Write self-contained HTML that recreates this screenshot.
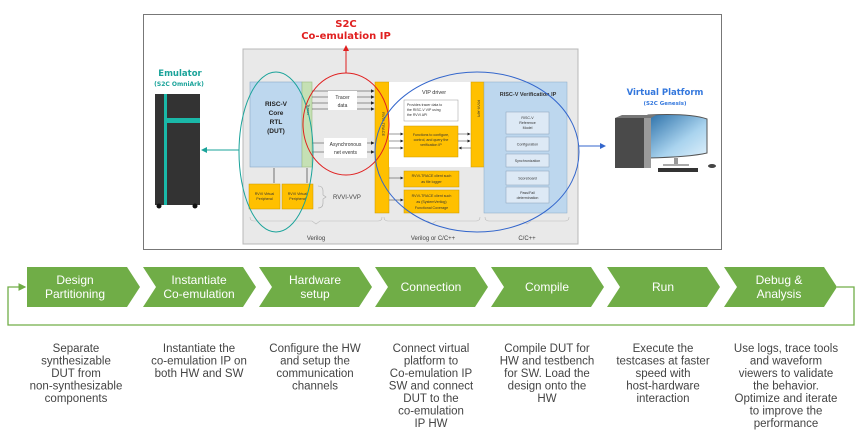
<!DOCTYPE html>
<html><head><meta charset="utf-8"><style>
body{margin:0;background:#fff;width:865px;height:431px;overflow:hidden}
svg{display:block;font-family:"Liberation Sans",sans-serif}
</style></head><body>
<svg width="865" height="431" viewBox="0 0 865 431" xmlns="http://www.w3.org/2000/svg">
<defs>
<marker id="ah" markerWidth="6" markerHeight="6" refX="5" refY="3" orient="auto"><path d="M0,0 L6,3 L0,6z" fill="#222"/></marker>
<marker id="ag" markerWidth="6" markerHeight="6" refX="5" refY="3" orient="auto"><path d="M0,0 L6,3 L0,6z" fill="#70ad47"/></marker>
<marker id="at" markerWidth="6" markerHeight="6" refX="5" refY="3" orient="auto"><path d="M0,0 L6,3 L0,6z" fill="#1aa39a"/></marker>
<marker id="ab" markerWidth="6" markerHeight="6" refX="5" refY="3" orient="auto"><path d="M0,0 L6,3 L0,6z" fill="#3366cc"/></marker>
<marker id="ar" markerWidth="6" markerHeight="6" refX="5" refY="3" orient="auto"><path d="M0,0 L6,3 L0,6z" fill="#e02020"/></marker>
<linearGradient id="scr" x1="0" y1="0" x2="1" y2="1"><stop offset="0" stop-color="#2a6fa8"/><stop offset="0.6" stop-color="#a9d3ee"/><stop offset="1" stop-color="#dff0fb"/></linearGradient>
</defs>
<rect x="143.5" y="14.5" width="578" height="235" fill="#fff" stroke="#777"/>
<rect x="243" y="49" width="335" height="195" fill="#e9e9e9" stroke="#b8b8b8"/>
<!-- S2C label -->
<text x="346" y="27" font-size="10" fill="#e02020" text-anchor="middle" font-weight="bold" font-family="DejaVu Sans">S2C</text>
<text x="346" y="39" font-size="10" fill="#e02020" text-anchor="middle" font-weight="bold" font-family="DejaVu Sans">Co-emulation IP</text>
<line x1="346" y1="73" x2="346" y2="46" stroke="#e02020" stroke-width="1" marker-end="url(#ar)"/>
<!-- core -->
<rect x="250" y="82" width="52" height="85" fill="#bdd7ee" stroke="#8aa9c8" stroke-width="0.6"/>
<text font-size="6.5" font-weight="bold" text-anchor="middle" fill="#222"><tspan x="276" y="106">RISC-V</tspan><tspan x="276" y="115">Core</tspan><tspan x="276" y="124">RTL</tspan><tspan x="276" y="133">(DUT)</tspan></text>
<rect x="302" y="82" width="10" height="85" fill="#c5e0b4" stroke="#9bbb80" stroke-width="0.6"/>
<text x="307" y="104" font-size="4" transform="rotate(90 307 104)" fill="#333">Tracer</text>
<rect x="249" y="184" width="31" height="25" fill="#ffc000" stroke="#c99a00" stroke-width="0.5"/>
<rect x="282" y="184" width="31" height="25" fill="#ffc000" stroke="#c99a00" stroke-width="0.5"/>
<text font-size="3.6" text-anchor="middle" fill="#333"><tspan x="264.5" y="195">RVVI Virtual</tspan><tspan x="264.5" y="200">Peripheral</tspan><tspan x="297.5" y="195">RVVI Virtual</tspan><tspan x="297.5" y="200">Peripheral</tspan></text>
<line x1="274" y1="168" x2="274" y2="183" stroke="#222" stroke-width="0.6"/>
<line x1="307" y1="168" x2="307" y2="183" stroke="#222" stroke-width="0.6"/>
<path d="M318,186 q5,0 5,5 v4 l3,2 l-3,2 v4 q0,5 -5,5" fill="none" stroke="#aaa" stroke-width="0.6"/>
<text x="333" y="199" font-size="6" fill="#444">RVVI-VVP</text>
<!-- tracer lines -->
<g stroke="#333" stroke-width="0.6">
<line x1="312" y1="91" x2="374" y2="91" marker-end="url(#ah)"/><line x1="312" y1="97" x2="374" y2="97" marker-end="url(#ah)"/>
<line x1="312" y1="103" x2="374" y2="103" marker-end="url(#ah)"/><line x1="312" y1="109" x2="374" y2="109" marker-end="url(#ah)"/>
<line x1="312" y1="143" x2="374" y2="143" marker-end="url(#ah)"/><line x1="312" y1="152" x2="374" y2="152" marker-end="url(#ah)"/>
</g>
<rect x="328" y="91" width="29" height="19" fill="#fff"/>
<text font-size="5" text-anchor="middle" fill="#333"><tspan x="342.5" y="99">Tracer</tspan><tspan x="342.5" y="107">data</tspan></text>
<rect x="324" y="138" width="43" height="20" fill="#fff"/>
<text font-size="5" text-anchor="middle" fill="#333"><tspan x="345.5" y="146">Asynchronous</tspan><tspan x="345.5" y="154">net events</tspan></text>
<!-- RVVI trace -->
<rect x="375" y="82" width="14" height="131" fill="#ffc000" stroke="#c99a00" stroke-width="0.5"/>
<text x="382" y="112" font-size="4" transform="rotate(90 382 112)" fill="#333">RVVI-TRACE</text>
<rect x="389" y="82" width="82" height="85" fill="#fff"/>
<text x="422" y="94" font-size="5.5" fill="#333">VIP driver</text>
<rect x="404" y="100" width="54" height="21" fill="#fff" stroke="#999" stroke-width="0.5"/>
<text font-size="3.5" fill="#333"><tspan x="407" y="106">Provides tracer data to</tspan><tspan x="407" y="111">the RISC-V VIP using</tspan><tspan x="407" y="116">the RVVI API</tspan></text>
<rect x="404" y="126" width="54" height="31" fill="#ffc000" stroke="#c99a00" stroke-width="0.5"/>
<text font-size="3.6" text-anchor="middle" fill="#333"><tspan x="431" y="136">Functions to configure,</tspan><tspan x="431" y="141">control, and query the</tspan><tspan x="431" y="146">verification IP</tspan></text>
<g stroke="#333" stroke-width="0.5">
<line x1="389" y1="134" x2="403" y2="134" marker-end="url(#ah)"/><line x1="389" y1="141" x2="403" y2="141" marker-end="url(#ah)"/><line x1="389" y1="148" x2="403" y2="148" marker-end="url(#ah)"/>
<line x1="458" y1="134" x2="470" y2="134" marker-end="url(#ah)"/><line x1="458" y1="141" x2="470" y2="141" marker-end="url(#ah)"/><line x1="471" y1="148" x2="459" y2="148" marker-end="url(#ah)"/>
<line x1="389" y1="178" x2="403" y2="178" marker-end="url(#ah)"/><line x1="389" y1="200" x2="403" y2="200" marker-end="url(#ah)"/>
</g>
<rect x="471" y="82" width="13" height="85" fill="#ffc000" stroke="#c99a00" stroke-width="0.5"/>
<text x="477.5" y="100" font-size="4" transform="rotate(90 477.5 100)" fill="#333">RVVI-API</text>
<rect x="404" y="171" width="55" height="16" fill="#ffc000" stroke="#c99a00" stroke-width="0.5"/>
<text font-size="3.6" text-anchor="middle" fill="#333"><tspan x="431.5" y="177">RVVI-TRACE client such</tspan><tspan x="431.5" y="183">as file logger</tspan></text>
<rect x="404" y="190" width="55" height="23" fill="#ffc000" stroke="#c99a00" stroke-width="0.5"/>
<text font-size="3.6" text-anchor="middle" fill="#333"><tspan x="431.5" y="197">RVVI-TRACE client such</tspan><tspan x="431.5" y="203">as (SystemVerilog)</tspan><tspan x="431.5" y="209">Functional Coverage</tspan></text>
<!-- VIP -->
<rect x="484" y="82" width="83" height="131" fill="#bdd7ee" stroke="#8aa9c8" stroke-width="0.5"/>
<text x="528" y="96" font-size="5.5" font-weight="bold" text-anchor="middle" fill="#333">RISC-V Verification IP</text>
<g fill="#dde9f5" stroke="#8aa0b8" stroke-width="0.5">
<rect x="506" y="112" width="43" height="22"/><rect x="506" y="137" width="43" height="14"/><rect x="506" y="154" width="43" height="13"/><rect x="506" y="171" width="43" height="14"/><rect x="506" y="187" width="43" height="16"/>
</g>
<text font-size="3.6" text-anchor="middle" fill="#333"><tspan x="527.5" y="119">RISC-V</tspan><tspan x="527.5" y="124">Reference</tspan><tspan x="527.5" y="129">Model</tspan><tspan x="527.5" y="145.5">Configuration</tspan><tspan x="527.5" y="162">Synchronization</tspan><tspan x="527.5" y="179.5">Scoreboard</tspan><tspan x="527.5" y="194">Pass/Fail</tspan><tspan x="527.5" y="199">determination</tspan></text>
<!-- braces -->
<g fill="none" stroke="#bbb" stroke-width="0.6">
<path d="M250,217 q0,4 4,4 h58 l4,3 l4,-3 h58 q4,0 4,-4"/>
<path d="M384,217 q0,4 4,4 h40 l4,3 l4,-3 h40 q4,0 4,-4"/>
<path d="M485,217 q0,4 4,4 h34 l4,3 l4,-3 h34 q4,0 4,-4"/>
</g>
<text font-size="6" text-anchor="middle" fill="#444"><tspan x="316" y="240">Verilog</tspan><tspan x="433" y="240">Verilog or C/C++</tspan><tspan x="527" y="240">C/C++</tspan></text>
<!-- ellipses -->
<ellipse cx="276" cy="152" rx="37" ry="80" fill="none" stroke="#1aa39a" stroke-width="1"/>
<ellipse cx="346" cy="124" rx="43" ry="51" fill="none" stroke="#e02020" stroke-width="1"/>
<ellipse cx="477" cy="152" rx="102" ry="80" fill="none" stroke="#3366cc" stroke-width="1"/>
<line x1="239" y1="150" x2="202" y2="150" stroke="#1aa39a" stroke-width="1" marker-end="url(#at)"/>
<line x1="579" y1="146" x2="605" y2="146" stroke="#3366cc" stroke-width="1" marker-end="url(#ab)"/>
<!-- emulator -->
<text x="180" y="76" font-size="8.5" font-weight="bold" fill="#1aa39a" text-anchor="middle" font-family="DejaVu Sans">Emulator</text>
<text x="179" y="86" font-size="6" font-weight="bold" fill="#1aa39a" text-anchor="middle" font-family="DejaVu Sans">(S2C OmniArk)</text>
<rect x="155" y="94" width="45" height="111" fill="#333"/>
<rect x="164" y="94" width="3" height="111" fill="#1ab8a8"/>
<rect x="167" y="118" width="33" height="5" fill="#1ab8a8"/>
<circle cx="159" cy="206" r="2.5" fill="#111"/><circle cx="195" cy="206" r="2.5" fill="#111"/>
<!-- virtual platform -->
<text x="665" y="95" font-size="8.5" font-weight="bold" fill="#3377dd" text-anchor="middle" font-family="DejaVu Sans">Virtual Platform</text>
<text x="665" y="105" font-size="5.5" font-weight="bold" fill="#3377dd" text-anchor="middle" font-family="DejaVu Sans">(S2C Genesis)</text>
<path d="M648,115 Q690,113 707,119 L707,153 Q690,157 648,158z" fill="url(#scr)" stroke="#555" stroke-width="1"/>
<rect x="674" y="158" width="4" height="6" fill="#999"/><rect x="663" y="164" width="26" height="2" fill="#aaa"/>
<rect x="658" y="168" width="40" height="4" fill="#333"/><ellipse cx="712" cy="166" rx="4" ry="2" fill="#444"/>
<rect x="615" y="118" width="36" height="50" fill="#4a4a4a"/>
<rect x="644" y="118" width="7" height="50" fill="#9a9a9a"/>
<polygon points="615,118 622,115 656,115 651,118" fill="#777"/>
<!-- bottom chevrons -->
<g fill="#70ad47">
<polygon points="27,267 127,267 140,287 127,307 27,307"/>
<polygon points="143,267 243,267 256,287 243,307 143,307 156,287"/>
<polygon points="259,267 359,267 372,287 359,307 259,307 272,287"/>
<polygon points="375,267 475,267 488,287 475,307 375,307 388,287"/>
<polygon points="491,267 591,267 604,287 591,307 491,307 504,287"/>
<polygon points="607,267 707,267 720,287 707,307 607,307 620,287"/>
<polygon points="724,267 824,267 837,287 824,307 724,307 737,287"/>
</g>
<path d="M837,287 H854 V325 H8 V287 H25" fill="none" stroke="#70ad47" stroke-width="1.3" marker-end="url(#ag)"/>
<g font-size="12" fill="#fff" text-anchor="middle">
<text x="75" y="284">Design</text><text x="75" y="298">Partitioning</text>
<text x="199" y="284">Instantiate</text><text x="199" y="298">Co-emulation</text>
<text x="315" y="284">Hardware</text><text x="315" y="298">setup</text>
<text x="431" y="291">Connection</text>
<text x="547" y="291">Compile</text>
<text x="663" y="291">Run</text>
<text x="779" y="284">Debug &amp;</text><text x="779" y="298">Analysis</text>
</g>
<g font-size="11.5" fill="#444" text-anchor="middle">
<text y="352"><tspan x="76">Separate</tspan><tspan x="76" dy="12.5">synthesizable</tspan><tspan x="76" dy="12.5">DUT from</tspan><tspan x="76" dy="12.5">non-synthesizable</tspan><tspan x="76" dy="12.5">components</tspan></text>
<text y="352"><tspan x="199">Instantiate the</tspan><tspan x="199" dy="12.5">co-emulation IP on</tspan><tspan x="199" dy="12.5">both HW and SW</tspan></text>
<text y="352"><tspan x="315">Configure the HW</tspan><tspan x="315" dy="12.5">and setup the</tspan><tspan x="315" dy="12.5">communication</tspan><tspan x="315" dy="12.5">channels</tspan></text>
<text y="352"><tspan x="431">Connect virtual</tspan><tspan x="431" dy="12.5">platform to</tspan><tspan x="431" dy="12.5">Co-emulation IP</tspan><tspan x="431" dy="12.5">SW and connect</tspan><tspan x="431" dy="12.5">DUT to the</tspan><tspan x="431" dy="12.5">co-emulation</tspan><tspan x="431" dy="12.5">IP HW</tspan></text>
<text y="352"><tspan x="547">Compile DUT for</tspan><tspan x="547" dy="12.5">HW and testbench</tspan><tspan x="547" dy="12.5">for SW. Load the</tspan><tspan x="547" dy="12.5">design onto the</tspan><tspan x="547" dy="12.5">HW</tspan></text>
<text y="352"><tspan x="663">Execute the</tspan><tspan x="663" dy="12.5">testcases at faster</tspan><tspan x="663" dy="12.5">speed with</tspan><tspan x="663" dy="12.5">host-hardware</tspan><tspan x="663" dy="12.5">interaction</tspan></text>
<text y="352"><tspan x="786">Use logs, trace tools</tspan><tspan x="786" dy="12.5">and waveform</tspan><tspan x="786" dy="12.5">viewers to validate</tspan><tspan x="786" dy="12.5">the behavior.</tspan><tspan x="786" dy="12.5">Optimize and iterate</tspan><tspan x="786" dy="12.5">to improve the</tspan><tspan x="786" dy="12.5">performance</tspan></text>
</g>
</svg>
</body></html>
